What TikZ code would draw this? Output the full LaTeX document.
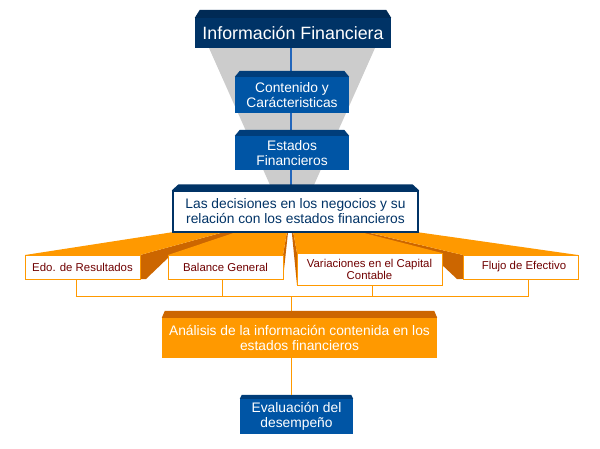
\documentclass[tikz,border=0pt]{standalone}
\usepackage{fontspec}
\setmainfont{Liberation Sans}
\usetikzlibrary{calc}
\definecolor{navy}{HTML}{003366}
\definecolor{navybev}{HTML}{002A55}
\definecolor{bluebody}{HTML}{0055A5}
\definecolor{bluebev}{HTML}{003D7A}
\definecolor{orng}{HTML}{FF9900}
\definecolor{orngdark}{HTML}{CC6600}
\definecolor{funnel}{HTML}{CCCCCC}
\definecolor{bline}{HTML}{2266BB}
\definecolor{lbltext}{HTML}{700000}
\tikzset{
  bodyfont/.style={font=\fontsize{13.8}{15}\selectfont},
  navybox/.style={fill=navy, text=white, inner sep=0pt, align=center, font=\fontsize{17.8}{20}\selectfont},
  bluebox/.style={fill=bluebody, text=white, inner sep=0pt, align=center, bodyfont},
  decbox/.style={fill=white, draw=navy, line width=1.2pt, text=navy, inner sep=0pt, align=center, bodyfont},
  orngbox/.style={fill=orng, text=white, inner sep=0pt, align=center, bodyfont},
  lblbox/.style={fill=white, draw=orng, line width=1pt, text=lbltext, inner sep=0pt, align=center, font=\fontsize{11.4}{12}\selectfont},
  lightface/.style={fill=orng},
  darkface/.style={fill=orngdark},
  conn/.style={draw=orng, line width=1pt},
  blueconn/.style={draw=bline, line width=1.1pt}
}
\newcommand{\bevel}[4]{% node, height, inset, colour
  \fill[#4] (#1.north west) -- ([xshift=#3pt,yshift=#2pt]#1.north west) -- ([xshift=-#3pt,yshift=#2pt]#1.north east) -- (#1.north east) -- cycle;}
\begin{document}
\begin{tikzpicture}[x=1pt,y=-1pt]
\useasboundingbox (0,0) rectangle (600,448);
% funnel
\fill[funnel] (209,48) -- (375,48) -- (314,185) -- (270,185) -- cycle;
% fans
\coordinate (V) at (290,214);
\fill[darkface] (140,255) -- (140,279) -- (146,279) -- (170,256) -- (V) -- cycle;
\fill[lightface] (25,255) -- (140,255) -- (V) -- cycle;
\fill[darkface] (463,255) -- (463,279) -- (457,279) -- (440,263) -- (V) -- cycle;
\fill[lightface] (463,255) -- (578,255) -- (V) -- cycle;
\fill[darkface] (283,255) -- (283,279) -- (V) -- cycle;
\fill[lightface] (168,255) -- (283,255) -- (V) -- cycle;
\fill[darkface] (297,253) -- (297,285) -- (V) -- cycle;
\fill[lightface] (297,253) -- (442,253) -- (V) -- cycle;
% blue spine
\coordinate (s1) at (291,48);
\coordinate (s2) at (291,186);
\draw[blueconn] (s1) -- (s2);
% boxes
\node[navybox, minimum width=196pt, minimum height=30pt] (info) at (293,33) {Información Financiera};
\bevel{info}{8}{5}{navybev}
\node[bluebox, minimum width=114pt, minimum height=36pt] (cont) at (292,95) {Contenido y\\Carácteristicas};
\bevel{cont}{6}{5}{bluebev}
\node[bluebox, minimum width=114pt, minimum height=34pt] (edos) at (292,153) {Estados\\Financieros};
\bevel{edos}{6}{5}{bluebev}
\node[decbox, minimum width=245pt, minimum height=41pt] (dec) at (295.5,211.5) {Las decisiones en los negocios y su\\relación con los estados financieros};
\fill[navy] ([xshift=-0.6pt]dec.north west) -- ([xshift=6pt,yshift=6pt]dec.north west) -- ([xshift=-6pt,yshift=6pt]dec.north east) -- ([xshift=0.6pt]dec.north east) -- cycle;
\node[lblbox, minimum width=115pt, minimum height=24pt] (edo) at (82.5,267) {Edo. de Resultados};
\node[lblbox, minimum width=115pt, minimum height=24pt] (bal) at (225.5,267) {Balance General};
\node[lblbox, minimum width=145pt, minimum height=32pt] (var) at (369.5,269) {Variaciones en el Capital\\Contable};
\node[lblbox, minimum width=115pt, minimum height=24pt] (flu) at (520.5,267) {\hspace*{7pt}Flujo de Efectivo};
% connectors
\coordinate (j1) at (76,296);
\coordinate (j2) at (222,296);
\coordinate (j3) at (372,296);
\coordinate (j4) at (528,296);
\coordinate (jc) at (291,296);
\draw[conn] (edo.south -| j1) -- (j1);
\draw[conn] (bal.south -| j2) -- (j2);
\draw[conn] (var.south -| j3) -- (j3);
\draw[conn] (flu.south -| j4) -- (j4);
\draw[conn] ([xshift=-0.5pt]j1) -- ([xshift=0.5pt]j4);
\node[orngbox, minimum width=275pt, minimum height=40pt] (anal) at (299.5,338) {Análisis de la información contenida en los\\estados financieros};
\draw[conn] (jc) -- (anal.north -| jc);
\bevel{anal}{7}{3}{orngdark}
\node[bluebox, minimum width=113pt, minimum height=35pt] (eval) at (296.5,416.5) {Evaluación del\\desempeño};
\bevel{eval}{4}{2}{bluebev}
\draw[conn] (anal.south -| jc) -- ([yshift=4pt]eval.north -| jc);
\end{tikzpicture}
\end{document}
